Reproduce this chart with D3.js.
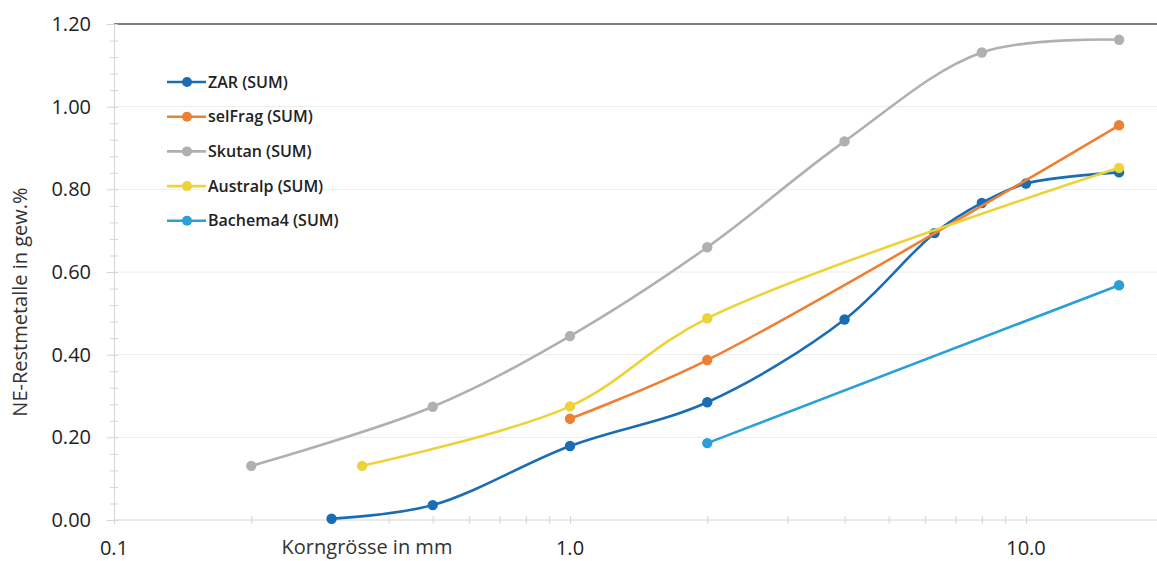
<!DOCTYPE html>
<html>
<head>
<meta charset="utf-8">
<script src="https://cdn.jsdelivr.net/npm/d3@7"></script>
<style>
  body { margin: 0; background: #fff; }
  text { font-family: "Open Sans", "Noto Sans", sans-serif; }
</style>
</head>
<body>
<div id="chart"></div>
<script>
// Korngrösse (mm) und NE-Restmetalle (gew.%) je Serie
const zarX = [0.3, 0.5, 1, 2, 4, 6.3, 8, 10, 16];
const zarY = [0.003, 0.036, 0.179, 0.285, 0.485, 0.694, 0.767, 0.814, 0.841];
const selFragX = [1, 2, 16];
const selFragY = [0.245, 0.387, 0.955];
const skutanX = [0.2, 0.5, 1, 2, 4, 8, 16];
const skutanY = [0.131, 0.274, 0.445, 0.66, 0.916, 1.131, 1.162];
const australpX = [0.35, 1, 2, 16];
const australpY = [0.131, 0.275, 0.488, 0.852];
const bachemaX = [2, 16];
const bachemaY = [0.186, 0.568];

const seriesNames = ["ZAR (SUM)", "selFrag (SUM)", "Skutan (SUM)", "Australp (SUM)", "Bachema4 (SUM)"];
const seriesColors = ["#1a6db5", "#ee8033", "#b0b0b0", "#ecd33a", "#2b9fda"];
const yTicks = [0, 0.2, 0.4, 0.6, 0.8, 1.0, 1.2];
const xTicks = [0.1, 1, 10];

const series = [
    [zarX, zarY], [selFragX, selFragY], [skutanX, skutanY], [australpX, australpY], [bachemaX, bachemaY]
].map((s, i) => ({
    name: seriesNames[i],
    color: seriesColors[i],
    values: s[0].map((x, j) => ({ x: x, y: s[1][j] }))
}));

const W = 1157, H = 561;
const plotLeft = 114, plotTop = 24, plotBottom = 520;

const svg = d3.select("#chart").append("svg")
    .attr("width", W)
    .attr("height", H);

// Skalen
const x = d3.scaleLog()
    .domain([0.1, 20])
    .range([plotLeft, plotLeft + 456 * Math.log10(200)]);

const y = d3.scaleLinear()
    .domain([0, 1.2])
    .range([plotBottom, plotTop]);

// Gitterlinien
svg.append("g")
    .selectAll("line")
    .data(yTicks.slice(1, -1))
    .enter()
    .append("line")
    .attr("x1", plotLeft).attr("x2", W)
    .attr("y1", d => y(d)).attr("y2", d => y(d))
    .attr("stroke", "#ececec")
    .attr("stroke-width", 1);

// obere Linie
svg.append("line")
    .attr("x1", plotLeft).attr("x2", W)
    .attr("y1", y(1.2)).attr("y2", y(1.2))
    .attr("stroke", "#555")
    .attr("stroke-width", 1.5);

// Y-Achse mit Nebenstrichen
const yAxis = svg.append("g")
    .attr("transform", `translate(${plotLeft},0)`)
    .call(d3.axisLeft(y).tickValues(d3.range(0, 1.2001, 0.04)).tickSize(4).tickFormat(""));
yAxis.select(".domain").attr("stroke", "#d4d4d4");
yAxis.selectAll(".tick line").attr("stroke", "#d4d4d4").attr("x2", 4).attr("x1", -4);
yAxis.selectAll(".tick line").filter(d => Math.abs(d * 5 - Math.round(d * 5)) < 1e-6)
    .attr("x1", -7);

svg.append("g")
    .selectAll("text")
    .data(yTicks)
    .enter()
    .append("text")
    .attr("x", 91)
    .attr("y", d => y(d))
    .attr("dy", "0.35em")
    .attr("text-anchor", "end")
    .attr("font-size", "20px")
    .attr("fill", "#222")
    .text(d => d3.format(".2f")(d));

// X-Achse (logarithmisch)
const xAxis = svg.append("g")
    .attr("transform", `translate(0,${plotBottom})`)
    .call(d3.axisBottom(x).ticks(10).tickSize(5).tickFormat(""));
xAxis.select(".domain").attr("stroke", "#d4d4d4").attr("d", `M${plotLeft},0H${W}`);
xAxis.selectAll(".tick line").attr("stroke", "#d4d4d4").attr("y1", -4).attr("y2", 4);

svg.append("g")
    .selectAll("text")
    .data(xTicks)
    .enter()
    .append("text")
    .attr("x", d => x(d))
    .attr("y", 548)
    .attr("dy", "0.35em")
    .attr("text-anchor", "middle")
    .attr("font-size", "20px")
    .attr("fill", "#222")
    .text(d => d3.format(".1f")(d));

// Achsentitel
svg.append("text")
    .attr("x", 367)
    .attr("y", 547)
    .attr("dy", "0.35em")
    .attr("text-anchor", "middle")
    .attr("font-size", "20px")
    .attr("fill", "#333")
    .text("Korngrösse in mm");

svg.append("text")
    .attr("transform", "translate(20,302) rotate(-90)")
    .attr("dy", "0.35em")
    .attr("text-anchor", "middle")
    .attr("font-size", "20px")
    .attr("fill", "#333")
    .text("NE-Restmetalle in gew.%");

// Linien und Punkte
const line = d3.line()
    .x(d => x(d.x))
    .y(d => y(d.y))
    .curve(d3.curveCatmullRom.alpha(0.5));

const g = svg.selectAll(".series")
    .data(series)
    .enter()
    .append("g")
    .attr("class", "series");

g.append("path")
    .attr("d", d => line(d.values))
    .attr("fill", "none")
    .attr("stroke", d => d.color)
    .attr("stroke-width", 2.6);

g.selectAll("circle")
    .data(d => d.values.map(v => ({ ...v, color: d.color })))
    .enter()
    .append("circle")
    .attr("cx", d => x(d.x))
    .attr("cy", d => y(d.y))
    .attr("r", 5.2)
    .attr("fill", d => d.color);

// Legende
const legend = svg.append("g")
    .selectAll("g")
    .data(series)
    .enter()
    .append("g")
    .attr("transform", (d, i) => `translate(167,${82 + i * 34.7})`);

legend.append("line")
    .attr("x1", 0).attr("x2", 39)
    .attr("stroke", d => d.color)
    .attr("stroke-width", 2.6);

legend.append("circle")
    .attr("cx", 20)
    .attr("r", 5)
    .attr("fill", d => d.color);

legend.append("text")
    .attr("x", 41)
    .attr("dy", "0.35em")
    .attr("font-size", "16px")
    .attr("font-weight", 600)
    .attr("fill", "#222")
    .text(d => d.name);
</script>
</body>
</html>
